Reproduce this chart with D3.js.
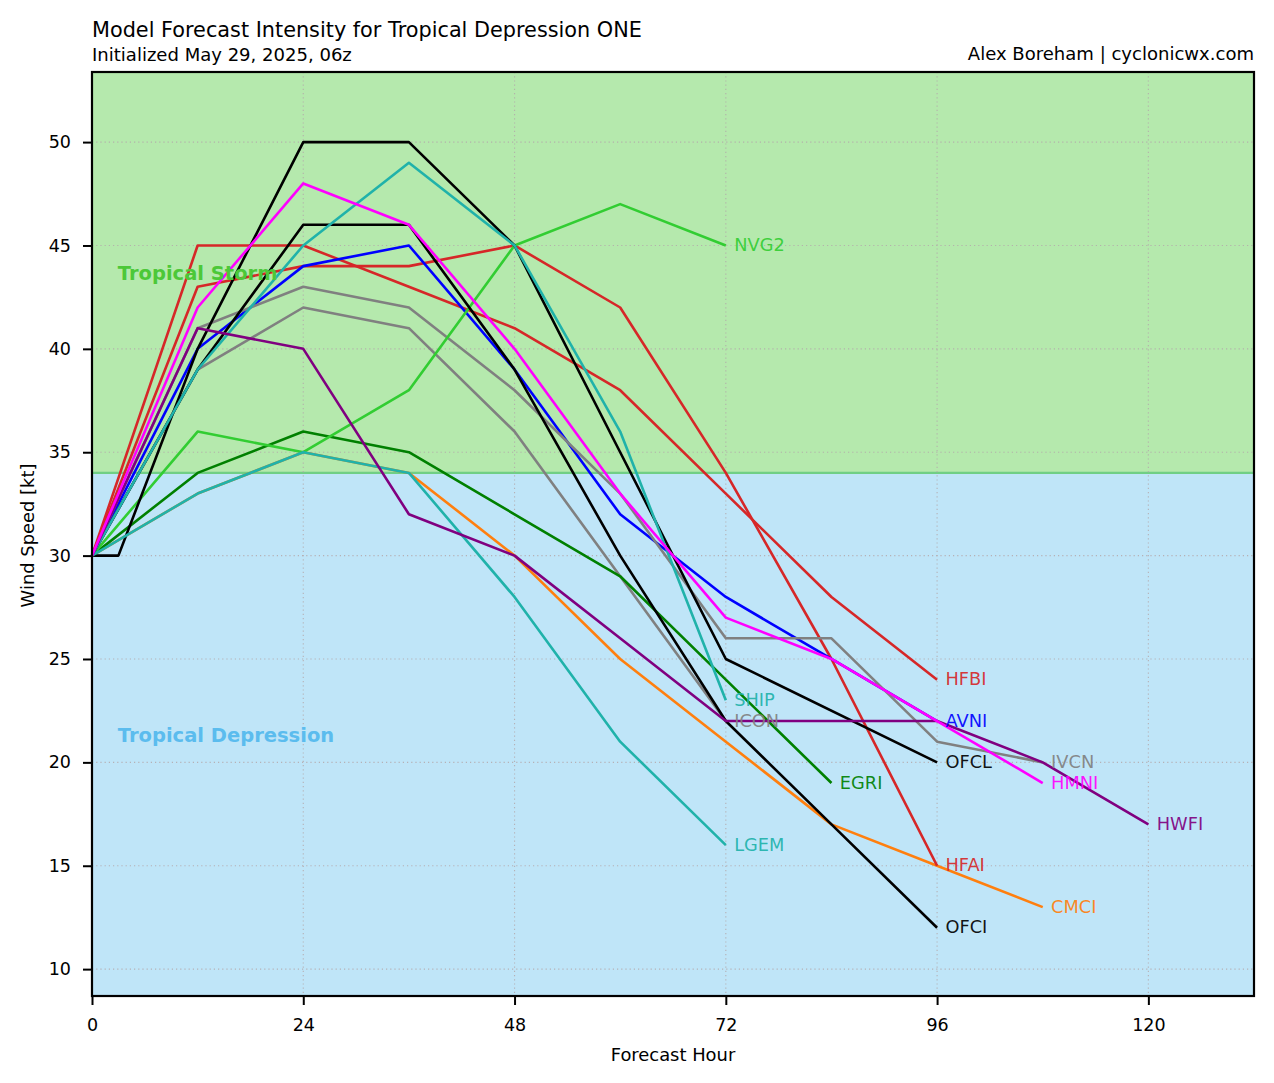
<!DOCTYPE html>
<html>
<head>
<meta charset="utf-8">
<script src="https://cdn.jsdelivr.net/npm/d3@7"></script>
<style>
  html, body { margin: 0; padding: 0; background: #fff; }
  svg { display: block; }
  text { font-family: "DejaVu Sans", sans-serif; }
</style>
</head>
<body>
<div class="chart"></div>
<script>
var svgWidth = 1274;
var svgHeight = 1083;

var margin = { top: 72, right: 20, bottom: 87, left: 92 };

var width = svgWidth - margin.left - margin.right;
var height = svgHeight - margin.top - margin.bottom;

// Axis limits and ticks
var xDomain = [0, 132];
var yDomain = [8.7, 53.39];
var xTicks = [0, 24, 48, 72, 96, 120];
var yTicks = [10, 15, 20, 25, 30, 35, 40, 45, 50];
var tsThreshold = 34;

// Forecast hours, 12 hourly unless noted
var hours12 = [0, 12, 24, 36, 48, 60, 72, 84, 96, 108, 120];
var hoursOfcl = [0, 3, 12, 24, 36, 48, 60, 72, 96];

// Model names, colours and values, in drawing order
var modelNames = ["CMCI", "HFAI", "HFBI", "AVNI", "ICON", "IVCN", "EGRI", "NVG2", "OFCL", "OFCI", "LGEM", "SHIP", "HWFI", "HMNI"];
var modelColors = ["#ff7f0e", "#d62728", "#d62728", "#0000ff", "#808080", "#808080", "#008000", "#32cd32", "#000000", "#000000", "#20b2aa", "#20b2aa", "#800080", "#ff00ff"];

var cmci = [30, 33, 35, 34, 30, 25, 21, 17, 15, 13];
var hfai = [30, 43, 44, 44, 45, 42, 34, 25, 15];
var hfbi = [30, 45, 45, 43, 41, 38, 33, 28, 24];
var avni = [30, 40, 44, 45, 39, 32, 28, 25, 22];
var icon = [30, 39, 42, 41, 36, 29, 22];
var ivcn = [30, 41, 43, 42, 38, 33, 26, 26, 21, 20];
var egri = [30, 34, 36, 35, 32, 29, 24, 19];
var nvg2 = [30, 36, 35, 38, 45, 47, 45];
var ofcl = [30, 30, 40, 50, 50, 45, 35, 25, 20];
var ofci = [30, 39, 46, 46, 39, 30, 22, 17, 12];
var lgem = [30, 33, 35, 34, 28, 21, 16];
var ship = [30, 39, 45, 49, 45, 36, 23];
var hwfi = [30, 41, 40, 32, 30, 26, 22, 22, 22, 20, 17];
var hmni = [30, 42, 48, 46, 40, 33, 27, 25, 22, 19];

var modelValues = [cmci, hfai, hfbi, avni, icon, ivcn, egri, nvg2, ofcl, ofci, lgem, ship, hwfi, hmni];

var svg = d3
  .select(".chart")
  .append("svg")
  .attr("width", svgWidth)
  .attr("height", svgHeight);

var chartGroup = svg.append("g")
  .attr("transform", `translate(${margin.left}, ${margin.top})`);

var xScale = d3.scaleLinear().domain(xDomain).range([0, width]);
var yScale = d3.scaleLinear().domain(yDomain).range([height, 0]);

// Intensity bands
chartGroup.append("rect")
  .attr("x", 0)
  .attr("y", yScale(tsThreshold))
  .attr("width", width)
  .attr("height", height - yScale(tsThreshold))
  .attr("fill", "#bfe5f8");

chartGroup.append("rect")
  .attr("x", 0)
  .attr("y", 0)
  .attr("width", width)
  .attr("height", yScale(tsThreshold))
  .attr("fill", "#b5e9ad");

chartGroup.append("line")
  .attr("x1", 0)
  .attr("x2", width)
  .attr("y1", yScale(tsThreshold))
  .attr("y2", yScale(tsThreshold))
  .attr("stroke", "#70cf85")
  .attr("stroke-width", 2.2);

// Grid
chartGroup.selectAll(".xgrid")
  .data(xTicks.slice(1))
  .enter()
  .append("line")
  .attr("class", "xgrid")
  .attr("x1", d => xScale(d))
  .attr("x2", d => xScale(d))
  .attr("y1", 0)
  .attr("y2", height);

chartGroup.selectAll(".ygrid")
  .data(yTicks)
  .enter()
  .append("line")
  .attr("class", "ygrid")
  .attr("x1", 0)
  .attr("x2", width)
  .attr("y1", d => yScale(d))
  .attr("y2", d => yScale(d));

chartGroup.selectAll(".xgrid, .ygrid")
  .attr("stroke", "#b4a8aa")
  .attr("stroke-opacity", 0.85)
  .attr("stroke-width", 1.1)
  .attr("stroke-dasharray", "1.2,3");

// Model lines
var line = d3.line()
  .x(d => xScale(d[0]))
  .y(d => yScale(d[1]));

function modelPoints(name, values) {
  var hours = (name === "OFCL") ? hoursOfcl
    : (name === "OFCI") ? hours12.slice(0, 9)
    : hours12;
  return values.map((v, i) => [hours[i], v]);
}

modelNames.forEach(function(name, i) {
  chartGroup.append("path")
    .attr("d", line(modelPoints(name, modelValues[i])))
    .attr("fill", "none")
    .attr("stroke", modelColors[i])
    .attr("stroke-width", 2.6)
    .attr("stroke-linejoin", "round");
});

// Labels sit on top of the lines
modelNames.forEach(function(name, i) {
  var points = modelPoints(name, modelValues[i]);
  var last = points[points.length - 1];

  chartGroup.append("text")
    .attr("x", xScale(last[0] + 0.95))
    .attr("y", yScale(last[1]))
    .attr("dy", "0.32em")
    .attr("font-size", 17.8)
    .attr("fill", modelColors[i])
    .attr("fill-opacity", 0.92)
    .text(name);
});

// Band labels
chartGroup.append("text")
  .attr("x", xScale(2.93))
  .attr("y", yScale(43.65))
  .attr("dy", "0.35em")
  .attr("font-size", 19.5)
  .attr("font-weight", "bold")
  .attr("fill", "#4cc838")
  .text("Tropical Storm");

chartGroup.append("text")
  .attr("x", xScale(2.93))
  .attr("y", yScale(21.3))
  .attr("dy", "0.35em")
  .attr("font-size", 19.5)
  .attr("font-weight", "bold")
  .attr("fill", "#5bbcee")
  .text("Tropical Depression");

// Axes
var bottomAxis = d3.axisBottom(xScale)
  .tickValues(xTicks)
  .tickSize(9)
  .tickPadding(14);

var leftAxis = d3.axisLeft(yScale)
  .tickValues(yTicks)
  .tickSize(9)
  .tickPadding(12);

var xAxis = chartGroup.append("g")
  .attr("transform", `translate(0, ${height})`)
  .call(bottomAxis);

var yAxis = chartGroup.append("g")
  .call(leftAxis);

[xAxis, yAxis].forEach(function(axis) {
  axis.select(".domain").remove();
  axis.selectAll("line").attr("stroke", "#000").attr("stroke-width", 2);
  axis.selectAll("text")
    .attr("font-family", "DejaVu Sans")
    .attr("font-size", 17.5)
    .attr("fill", "#000");
});

// Frame
chartGroup.append("rect")
  .attr("width", width)
  .attr("height", height)
  .attr("fill", "none")
  .attr("stroke", "#000")
  .attr("stroke-width", 2.2);

// Axis titles
chartGroup.append("text")
  .attr("x", width / 2)
  .attr("y", height + 65)
  .attr("text-anchor", "middle")
  .attr("font-size", 17.9)
  .text("Forecast Hour");

chartGroup.append("text")
  .attr("transform", `translate(${-58}, ${height / 2 + 1.5}) rotate(-90)`)
  .attr("text-anchor", "middle")
  .attr("font-size", 17.9)
  .text("Wind Speed [kt]");

// Titles
svg.append("text")
  .attr("x", margin.left)
  .attr("y", 37)
  .attr("font-size", 20.8)
  .text("Model Forecast Intensity for Tropical Depression ONE");

svg.append("text")
  .attr("x", margin.left)
  .attr("y", 60.5)
  .attr("font-size", 18.05)
  .text("Initialized May 29, 2025, 06z");

svg.append("text")
  .attr("x", svgWidth - margin.right)
  .attr("y", 59.5)
  .attr("text-anchor", "end")
  .attr("font-size", 18.05)
  .text("Alex Boreham | cyclonicwx.com");
</script>
</body>
</html>
